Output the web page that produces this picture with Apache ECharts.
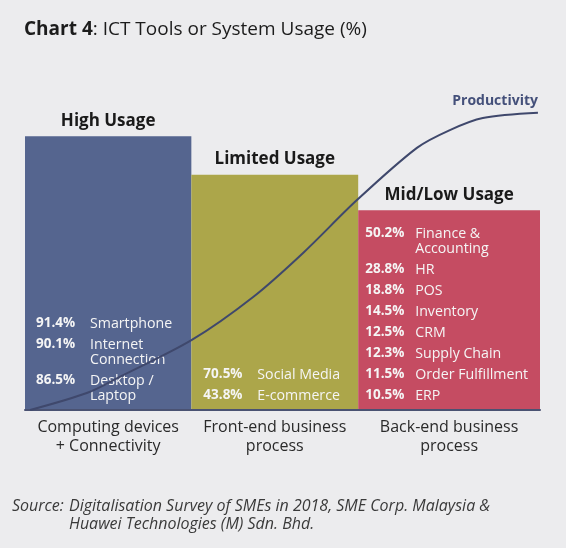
<!DOCTYPE html>
<html lang="en" style="height: 100%">
<head>
  <meta charset="utf-8">
  <title>Chart 4: ICT Tools or System Usage (%)</title>
</head>
<body style="height: 100%; margin: 0; background: #ececee">
  <div id="container" style="height: 100%"></div>

  <script type="text/javascript" src="https://cdn.jsdelivr.net/npm/echarts@6/dist/echarts.min.js"></script>
  <script type="text/javascript">
    // groups (x spans are % of plot width, level is bar height)
    const groupNames = ['Computing devices\n+ Connectivity', 'Front-end business\nprocess', 'Back-end business\nprocess'];
    const usageTitles = ['High Usage', 'Limited Usage', 'Mid/Low Usage'];
    const groupStart = [0, 32.3, 64.7];
    const groupEnd = [32.3, 64.7, 100];
    const usageLevel = [100, 86, 73];

    // tools inside each bar
    const devicePct = [91.4, 90.1, 86.5];
    const deviceTools = ['Smartphone', 'Internet\nConnection', 'Desktop /\nLaptop'];
    const frontPct = [70.5, 43.8];
    const frontTools = ['Social Media', 'E-commerce'];
    const backPct = [50.2, 28.8, 18.8, 14.5, 12.5, 12.3, 11.5, 10.5];
    const backTools = ['Finance &\nAccounting', 'HR', 'POS', 'Inventory', 'CRM', 'Supply Chain', 'Order Fulfillment', 'ERP'];

    // productivity curve
    const productivityX = [1.0, 12.0, 18.4, 32.4, 44.3, 54.0, 64.5, 76.1, 82.5, 88.9, 99.6];
    const productivityY = [0, 6.2, 12.1, 25.6, 41.3, 57.4, 76.8, 95.8, 102.3, 106.7, 108.6];

    const barColors = ['#55658f', '#aca64a', '#c54c62'];
    const listInset = [11, 12, 7];
    const pctWidth = [54, 54, 50];
    const FONT = '"Open Sans", Lato, sans-serif';

    const pctLists = [devicePct, frontPct, backPct];
    const toolLists = [deviceTools, frontTools, backTools];

    function buildList(pcts, tools) {
      return pcts.map(function (v, k) {
        const lines = tools[k].split('\n');
        return lines.map(function (line, j) {
          return (j === 0 ? '{p|' + v.toFixed(1) + '%}' : '{p|}') + '{n|' + line + '}';
        }).join('\n');
      }).join('\n{s|}\n');
    }

    const barData = groupNames.map(function (g, i) {
      return [groupStart[i], groupEnd[i], usageLevel[i]];
    });
    const curveData = productivityX.map(function (x, i) {
      return [x, productivityY[i]];
    });

    var dom = document.getElementById('container');
    var myChart = echarts.init(dom, null, { renderer: 'canvas' });

    var option = {
      backgroundColor: '#ececee',
      animation: false,
      textStyle: { fontFamily: FONT },
      title: [
        {
          left: 19,
          top: 15,
          text: '{b|Chart 4}{r|: ICT Tools or System Usage (%)}',
          textStyle: {
            fontWeight: 'normal',
            rich: {
              b: { fontFamily: FONT, fontSize: 19, fontWeight: 'bold', color: '#1c1c1c' },
              r: { fontFamily: FONT, fontSize: 19, fontWeight: 'normal', color: '#1c1c1c' }
            }
          }
        },
        {
          left: 7,
          top: 492,
          text: '{i|Source: }{t|Digitalisation Survey of SMEs in 2018, SME Corp. Malaysia &}\n{i|}{t|Huawei Technologies (M) Sdn. Bhd.}',
          textStyle: {
            fontWeight: 'normal',
            rich: {
              i: { fontFamily: FONT, fontSize: 16, fontStyle: 'italic', fontWeight: 'normal', color: '#3a3a3a', width: 57, lineHeight: 18 },
              t: { fontFamily: FONT, fontSize: 16, fontStyle: 'italic', fontWeight: 'normal', color: '#3a3a3a', lineHeight: 18 }
            }
          }
        }
      ],
      grid: { left: 25, right: 26, top: 109, bottom: 138 },
      xAxis: {
        type: 'value',
        min: 0,
        max: 100,
        axisLine: { show: true, onZero: false, lineStyle: { color: '#4a5272', width: 2 } },
        axisTick: { show: false },
        axisLabel: { show: false },
        splitLine: { show: false }
      },
      yAxis: {
        type: 'value',
        min: 0,
        max: 110,
        show: false
      },
      series: [
        {
          type: 'custom',
          data: barData,
          encode: { x: [0, 1], y: 2 },
          z: 1,
          renderItem: function (params, api) {
            const i = params.dataIndex;
            const tl = api.coord([api.value(0), api.value(2)]);
            const br = api.coord([api.value(1), 0]);
            const mid = (tl[0] + br[0]) / 2;
            return {
              type: 'group',
              children: [
                {
                  type: 'rect',
                  shape: { x: tl[0], y: tl[1], width: br[0] - tl[0], height: br[1] - tl[1] - 1 },
                  style: { fill: barColors[i] }
                },
                {
                  type: 'text',
                  x: mid,
                  y: tl[1] - 7,
                  style: {
                    text: usageTitles[i],
                    font: 'bold 17px ' + FONT,
                    fill: '#1a1a1a',
                    align: 'center',
                    verticalAlign: 'bottom'
                  }
                },
                {
                  type: 'text',
                  x: tl[0] + listInset[i],
                  y: br[1] - 7,
                  z2: 5,
                  style: {
                    text: buildList(pctLists[i], toolLists[i]),
                    align: 'left',
                    verticalAlign: 'bottom',
                    rich: {
                      p: { fontFamily: FONT, fontSize: 13.5, fontWeight: 'bold', fill: '#f5f5f5', width: pctWidth[i], lineHeight: 15 },
                      n: { fontFamily: FONT, fontSize: 14.2, fill: '#f5f5f5', lineHeight: 15 },
                      s: { lineHeight: 6, fontSize: 6 }
                    }
                  }
                },
                {
                  type: 'text',
                  x: mid,
                  y: br[1] + 8,
                  style: {
                    text: groupNames[i],
                    font: '16px ' + FONT,
                    lineHeight: 19,
                    fill: '#2a2a2a',
                    align: 'center',
                    verticalAlign: 'top'
                  }
                }
              ]
            };
          }
        },
        {
          type: 'line',
          data: curveData,
          smooth: 0.3,
          showSymbol: false,
          z: 3,
          lineStyle: { color: '#3f486c', width: 2 },
          endLabel: {
            show: true,
            formatter: 'Productivity',
            align: 'right',
            verticalAlign: 'bottom',
            distance: 0,
            offset: [0, -5],
            fontFamily: FONT,
            fontSize: 14,
            fontWeight: 'bold',
            color: '#44507a'
          }
        }
      ]
    };

    if (option && typeof option === 'object') {
      myChart.setOption(option);
    }

    window.addEventListener('resize', myChart.resize);
  </script>
</body>
</html>
